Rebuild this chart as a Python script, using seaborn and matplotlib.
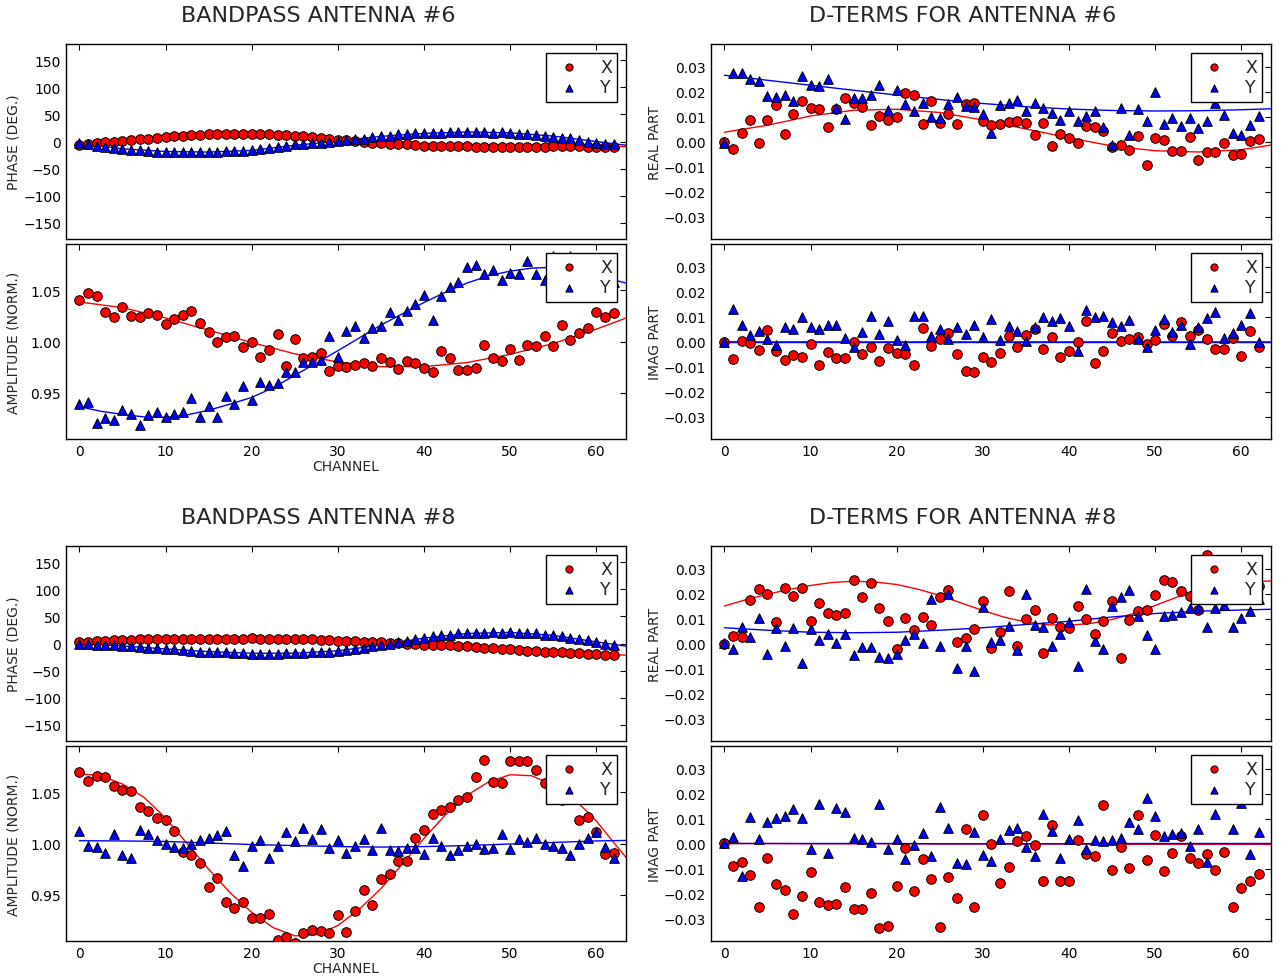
import matplotlib
matplotlib.use('Agg')
import matplotlib.pyplot as plt
import seaborn as sns
from matplotlib.ticker import FuncFormatter

sns.set_style('white')
plt.rcParams['font.family'] = ['DejaVu Sans']

channels = list(range(63))
fit_channels = [0, 5, 10, 15, 20, 25, 30, 35, 40, 45, 50, 55, 60, 63.5]
fit_channels_fine = [0, 2.5, 5, 7.5, 10, 12.5, 15, 17.5, 20, 22.5, 25, 27.5, 30, 32.5,
                     35, 37.5, 40, 42.5, 45, 47.5, 50, 52.5, 55, 57.5, 60, 62.5, 63.5]

# ---- Antenna 6 bandpass: phase (deg) ----
phase6_x = [-6.5, -5, -3, -1.5, 0, 1.5, 2.5, 4, 5, 6.5,
            8, 9.5, 11, 12, 12.5, 13, 13.5, 14, 14.5, 14,
            14, 13.5, 13, 12.5, 12, 11, 10, 8.5, 7, 5,
            3.5, 2, 0.5, -1, -2, -3, -4, -5, -5.5, -6,
            -7.5, -8, -8.5, -8.5, -9, -9, -9.5, -9.5, -10, -10,
            -9.5, -9.5, -9.5, -9.5, -9.5, -9, -9, -8.5, -9, -9.5,
            -9.5, -9.5, -9.5]
phase6_y = [-3.5, -5, -8.5, -10.5, -12.5, -14, -15.5, -16, -18, -19,
            -19.5, -19.5, -19, -20, -19.5, -19, -19, -18, -18, -17.5,
            -16, -13.5, -12.5, -11, -7.5, -5.5, -4.5, -3, -2, -0.5,
            0.5, 2, 4.5, 5.5, 8, 10, 11, 13, 14, 15.5,
            15.5, 16, 16.5, 18, 18, 18, 17.5, 17.5, 16, 17,
            15, 14, 13.5, 12.5, 11, 9, 7, 6, 2.5, -0.5,
            -2.5, -4, -5.5]
phase6_x_fit = [-6, 1.5, 8, 12.5, 14, 11.5, 4, -3, -7.5, -9.5, -10, -9.5, -9.5, -9.5]
phase6_y_fit = [-3.5, -13.5, -18.5, -19.5, -16.5, -7, 0.5, 9.5, 15, 17.5, 16, 10, 0, -7]

# ---- Antenna 6 bandpass: amplitude (normalised) ----
amp6_x = [1.040, 1.047, 1.044, 1.029, 1.024, 1.034, 1.025, 1.024, 1.028, 1.026,
          1.017, 1.022, 1.026, 1.030, 1.018, 1.009, 1.000, 1.004, 1.005, 0.995,
          1.000, 0.985, 0.992, 1.007, 0.976, 1.002, 0.984, 0.985, 0.989, 0.971,
          0.976, 0.975, 0.977, 0.979, 0.976, 0.984, 0.980, 0.973, 0.981, 0.979,
          0.974, 0.970, 0.991, 0.984, 0.972, 0.972, 0.974, 0.997, 0.984, 0.981,
          0.993, 0.982, 0.997, 0.996, 1.005, 0.996, 1.016, 1.001, 1.008, 1.013,
          1.029, 1.024, 1.028]
amp6_y = [0.939, 0.941, 0.921, 0.925, 0.924, 0.933, 0.929, 0.919, 0.928, 0.931,
          0.926, 0.929, 0.931, 0.945, 0.926, 0.937, 0.926, 0.947, 0.939, 0.957,
          0.943, 0.961, 0.958, 0.960, 0.970, 0.970, 0.980, 0.980, 0.982, 1.005,
          0.985, 1.010, 1.015, 1.003, 1.013, 1.015, 1.029, 1.021, 1.030, 1.037,
          1.045, 1.021, 1.044, 1.053, 1.058, 1.073, 1.075, 1.066, 1.070, 1.060,
          1.067, 1.066, 1.078, 1.066, 1.060, 1.083, 1.070, 1.083, 1.070, 1.065,
          1.055, 1.070, 1.058]
amp6_x_fit = [1.0385, 1.033, 1.023, 1.011, 0.999, 0.988, 0.980, 0.9755, 0.9755, 0.9795, 0.9875, 0.998, 1.012, 1.023]
amp6_y_fit = [0.9366, 0.932, 0.929, 0.9265, 0.926, 0.9285, 0.933, 0.939, 0.9455, 0.955, 0.967, 0.979, 0.991, 1.0035,
              1.016, 1.027, 1.038, 1.048, 1.057, 1.064, 1.0686, 1.0715, 1.0722, 1.070, 1.0652, 1.059, 1.0568]

# ---- Antenna 8 bandpass: phase (deg) ----
phase8_x = [2.5, 3, 4.5, 4.5, 6, 7, 7, 7.5, 7.5, 8,
            8, 8.5, 9, 9, 9, 9, 9, 9, 9, 9,
            10, 9, 8.5, 8, 8, 8, 7.5, 7.5, 7, 6,
            5.5, 5, 4, 3.5, 3, 2, 1, 0.5, -0.5, -1,
            -2, -2.5, -3, -3.5, -4.5, -5.5, -7, -8, -8.5, -10,
            -10.5, -12, -13, -14, -15.5, -16, -16.5, -17, -18, -18.5,
            -19.5, -21, -21]
phase8_y = [0, -0.5, -2, -3, -3.5, -4.5, -5.5, -7, -8, -8.5,
            -10, -10.5, -11.5, -14, -15.5, -15.5, -16, -16.5, -17, -18,
            -18.5, -18.5, -18.5, -18.5, -18, -17.5, -17, -16.5, -15.5, -15,
            -13.5, -12.5, -11, -8, -5.5, -3, -0.5, 2.5, 4.5, 7.5,
            10.5, 13.5, 15, 16.5, 18.5, 19, 19, 19, 20.5, 19.5,
            21, 19.5, 19, 18.5, 16.5, 15.5, 14, 10.5, 8, 6,
            2.5, -1, -2.5]
phase8_x_fit = [2.5, 6.5, 8.5, 9.5, 9.5, 8, 5.5, 2, -1.5, -5.5, -10.5, -15.5, -19.5, -21.5]
phase8_y_fit = [0, -4.5, -10, -15, -18, -18, -13.5, -3, 10, 18.5, 20.5, 15, 3, -5]

# ---- Antenna 8 bandpass: amplitude (normalised) ----
amp8_x = [1.070, 1.061, 1.066, 1.065, 1.056, 1.052, 1.051, 1.036, 1.032, 1.025,
          1.023, 1.012, 0.992, 0.989, 0.981, 0.958, 0.966, 0.943, 0.937, 0.943,
          0.927, 0.927, 0.931, 0.906, 0.909, 0.903, 0.913, 0.916, 0.915, 0.913,
          0.930, 0.914, 0.934, 0.955, 0.940, 0.965, 0.970, 0.983, 0.983, 1.005,
          1.013, 1.029, 1.033, 1.036, 1.042, 1.045, 1.065, 1.081, 1.060, 1.059,
          1.080, 1.080, 1.080, 1.072, 1.059, 1.049, 1.042, 1.044, 1.023, 1.026,
          1.011, 0.990, 0.991]
amp8_y = [1.012, 0.998, 0.997, 0.991, 1.009, 0.989, 0.986, 1.013, 1.009, 1.003,
          1.000, 0.997, 0.996, 1.000, 1.003, 1.005, 1.008, 1.012, 0.989, 0.978,
          0.998, 1.003, 0.986, 0.998, 1.011, 1.002, 1.015, 1.004, 1.014, 0.996,
          1.003, 0.991, 0.998, 1.004, 0.994, 1.015, 0.994, 0.993, 0.996, 0.996,
          0.990, 1.005, 0.998, 0.989, 0.994, 0.998, 1.000, 0.995, 0.996, 1.009,
          0.995, 1.004, 1.001, 1.005, 1.000, 0.998, 0.996, 0.989, 1.000, 1.005,
          1.011, 0.997, 0.986]
amp8_x_fit = [1.068, 1.066, 1.058, 1.045, 1.025, 1.000, 0.975, 0.952, 0.933, 0.918, 0.910, 0.911, 0.920, 0.936,
              0.956, 0.980, 1.005, 1.028, 1.047, 1.060, 1.067, 1.066, 1.057, 1.043, 1.022, 0.996, 0.986]
amp8_y_fit = [1.0027, 1.0025, 1.002, 1.0005, 0.999, 0.998, 0.997, 0.9965, 0.997, 0.998, 0.9995, 1.001, 1.0025, 1.003]

# ---- Antenna 6 D-terms ----
real6_x = [0.0, -0.0029, 0.0033, 0.0088, -0.0005, 0.0088, 0.0147, 0.0031, 0.0111, 0.0163,
           0.0134, 0.0129, 0.0059, 0.0131, 0.0175, 0.0154, 0.0139, 0.0068, 0.0104, 0.0086,
           0.0099, 0.0196, 0.0187, 0.0072, 0.0163, 0.0075, 0.011, 0.007, 0.0149, 0.0154,
           0.0082, 0.0067, 0.0072, 0.0078, 0.0084, 0.0075, 0.0025, 0.0076, -0.0019, 0.0031,
           0.0015, -0.0007, 0.0062, 0.0058, 0.0042, -0.0023, -0.0013, -0.0032, 0.0021, -0.0094,
           0.0013, 0.0008, -0.0036, -0.0036, 0.002, -0.0072, -0.0042, -0.0043, -0.0007, -0.0054,
           -0.0051, 0.0003, 0.0011]
real6_y = [-0.0005, 0.0275, 0.0275, 0.0249, 0.0242, 0.0181, 0.0178, 0.0186, 0.0161, 0.0261,
           0.0225, 0.0221, 0.0249, 0.0134, 0.0091, 0.0175, 0.0175, 0.0187, 0.0228, 0.0125,
           0.0205, 0.0151, 0.0121, 0.0154, 0.0098, 0.0094, 0.0151, 0.0178, 0.0141, 0.0139,
           0.011, 0.0033, 0.0145, 0.0154, 0.0165, 0.0121, 0.0155, 0.0134, 0.0115, 0.0087,
           0.0123, 0.0084, 0.0104, 0.0122, 0.0059, -0.0013, 0.0135, 0.0027, 0.0131, 0.0082,
           0.0198, 0.0072, 0.0094, 0.0062, 0.0096, 0.0056, 0.0083, 0.0155, 0.0107, 0.0035,
           0.0028, 0.0066, 0.0103]
real6_x_fit = [0.0037, 0.0065, 0.0102, 0.0125, 0.0129, 0.0116, 0.0086, 0.0050, 0.0015, -0.0018, -0.0037, -0.0042, -0.0033, -0.0014]
real6_y_fit = [0.0265, 0.0245, 0.0225, 0.0205, 0.0186, 0.0168, 0.0152, 0.0139, 0.0130, 0.0124, 0.0122, 0.0123, 0.0127, 0.0131]

imag6_x = [0.0, -0.0071, 0.0001, -0.0005, -0.0035, 0.0047, -0.0036, -0.0075, -0.0055, -0.0061,
           -0.0011, -0.0092, -0.0043, -0.0067, -0.0064, -0.0001, -0.0049, -0.0023, -0.0076, -0.0027,
           -0.0045, -0.0048, -0.0092, 0.0053, -0.0017, 0.0012, 0.0035, -0.0049, -0.0116, -0.012,
           -0.0063, -0.0081, -0.0045, 0.0023, -0.0023, 0.0028, 0.0049, -0.0028, 0.002, -0.0061,
           -0.0039, 0.0, 0.0084, -0.0084, -0.0037, 0.0033, 0.0003, 0.0009, 0.0017, -0.0009,
           0.0008, 0.0069, 0.0024, 0.0079, 0.0023, 0.0045, 0.0011, -0.0028, -0.0031, 0.0013,
           -0.0056, 0.0043, -0.0023]
imag6_y = [0.0, 0.0129, 0.0067, 0.0025, 0.0041, 0.0012, -0.0012, 0.0059, 0.0052, 0.0099,
           0.0059, 0.0052, 0.0068, 0.0068, 0.0013, -0.002, 0.004, 0.0104, 0.0032, 0.0083,
           0.0005, -0.0012, 0.0101, 0.0101, 0.0023, 0.0049, 0.0009, 0.006, 0.0032, 0.0067,
           0.002, 0.0089, 0.0008, 0.0061, 0.0041, 0.0003, 0.006, 0.01, 0.0081, 0.0093,
           0.0064, -0.0037, 0.0125, 0.01, 0.0103, 0.0079, 0.0063, 0.0085, 0.0009, -0.002,
           0.0045, 0.0092, 0.0039, 0.0067, -0.0011, 0.006, 0.0095, 0.0119, 0.0016, 0.0033,
           0.0068, 0.0116, -0.0001]
imag6_x_fit = [0.0, -0.0001, -0.0001, -0.0001, -0.0001, -0.0001, -0.0001, -0.0001, -0.0001, -0.0001, -0.0001, -0.0001, -0.0001, -0.0001]
imag6_y_fit = [0.0, 0.0, 0.0, 0.0, 0.0, 0.0, 0.0, 0.0, 0.0, 0.0, 0.0, 0.0, 0.0, 0.0]

# ---- Antenna 8 D-terms ----
real8_x = [-0.0001, 0.0032, 0.0027, 0.0174, 0.0218, 0.02, 0.0086, 0.0223, 0.0189, 0.0223,
           0.009, 0.0161, 0.0124, 0.0114, 0.0124, 0.0254, 0.0188, 0.0241, 0.0142, 0.009,
           -0.0023, 0.0102, 0.0056, 0.0105, 0.0075, 0.0185, 0.0216, 0.0005, 0.0023, 0.0059,
           0.0169, -0.0017, 0.0048, 0.0209, -0.0009, 0.01, 0.0134, -0.0037, 0.0102, 0.0065,
           0.0063, 0.015, 0.0097, 0.0037, 0.0089, 0.0172, -0.0057, 0.0096, 0.0129, 0.0134,
           0.0193, 0.0255, 0.0245, 0.0212, 0.0192, 0.0134, 0.0356, 0.022, 0.027, 0.02,
           0.025, 0.019, 0.023]
real8_y = [0.0003, -0.002, 0.0068, 0.0025, 0.0102, -0.0041, 0.0063, -0.0009, 0.0061, -0.0077,
           0.0059, 0.0015, 0.0039, 0.0003, 0.0037, -0.0045, -0.0013, -0.0013, -0.0055, -0.0057,
           -0.0041, 0.0013, 0.0037, 0.0003, 0.018, -0.0008, 0.02, -0.0096, -0.0009, -0.011,
           0.0146, 0.0005, 0.0016, 0.0071, -0.0024, 0.02, 0.0076, 0.0067, -0.0009, 0.004,
           0.0086, -0.0089, 0.022, 0.0009, -0.002, 0.0149, 0.0186, 0.0213, 0.011, 0.0033,
           -0.002, 0.011, 0.0116, 0.0128, 0.0142, 0.0142, 0.0065, 0.0142, 0.0154, 0.0065,
           0.0104, 0.0132, 0.018]
real8_x_fit = [0.0150, 0.0175, 0.0197, 0.0216, 0.0232, 0.0244, 0.0249, 0.0246, 0.0236, 0.0217, 0.0192, 0.0162, 0.0132, 0.0105,
               0.0086, 0.0075, 0.0073, 0.0080, 0.0096, 0.0120, 0.0152, 0.0185, 0.0212, 0.0232, 0.0244, 0.0249, 0.0250]
real8_y_fit = [0.0063, 0.0053, 0.0045, 0.0043, 0.0045, 0.0053, 0.0063, 0.0076, 0.0089, 0.0106, 0.0120, 0.0129, 0.0134, 0.0137]

imag8_x = [0.0004, -0.0089, -0.0072, -0.0127, -0.0252, -0.0056, -0.0163, -0.0185, -0.028, -0.0208,
           -0.0113, -0.0233, -0.0245, -0.024, -0.0172, -0.0263, -0.026, -0.0196, -0.0337, -0.0329,
           -0.0169, -0.0016, -0.0189, -0.006, -0.0143, -0.0332, -0.0135, -0.0217, 0.0057, -0.0252,
           0.0113, -0.0003, -0.0156, -0.0093, 0.0011, 0.0031, -0.0005, -0.0148, 0.0073, -0.0151,
           -0.0151, 0.0015, -0.004, -0.0049, 0.0156, -0.0105, -0.0012, -0.0099, 0.0115, -0.0064,
           0.0035, -0.0108, -0.0037, 0.0029, -0.0056, -0.0079, -0.0043, -0.0104, -0.0033, -0.0253,
           -0.0177, -0.0149, -0.0121]
imag8_y = [0.0001, 0.0028, -0.0128, 0.0107, 0.002, 0.0085, 0.0104, 0.0112, 0.014, 0.0103,
           -0.0023, 0.016, -0.0037, 0.0143, 0.0127, 0.0023, 0.002, 0.0007, 0.016, -0.0023,
           0.002, -0.006, -0.0007, 0.0043, -0.0049, 0.0148, 0.0063, -0.0076, -0.008, 0.0047,
           -0.0045, -0.0071, 0.0017, 0.0056, 0.0064, -0.0013, -0.0048, 0.0119, 0.0052, -0.0056,
           0.002, 0.0093, -0.0023, 0.0015, 0.0012, 0.0016, 0.0024, 0.0087, 0.006, 0.0184,
           0.0111, 0.0031, 0.004, 0.0041, -0.0009, 0.006, -0.0073, 0.0117, 0.02, 0.006,
           0.0164, -0.004, 0.0048]
imag8_x_fit = [0.0, 0.0, -0.0001, -0.0001, -0.0001, -0.0002, -0.0002, -0.0002, -0.0002, -0.0003, -0.0003, -0.0003, -0.0003, -0.0003]
imag8_y_fit = [0.0, 0.0, 0.0, 0.0, 0.0, -0.0001, -0.0001, -0.0001, -0.0001, 0.0, 0.0, 0.0, 0.0, 0.0]

W, H = 1281, 979
fig = plt.figure(figsize=(W / 100, H / 100), dpi=100)


def make_axes(left_px, top_px):
    return fig.add_axes([left_px / W, 1 - (top_px + 195) / H, 560 / W, 195 / H])


def two_dec(v, pos):
    return f'{v:.2f}'.replace('-', '\u2212')


def grid_for(values):
    # fitted curves were read either every 5 or every 2.5 channels
    return fit_channels_fine if len(values) == len(fit_channels_fine) else fit_channels


def draw_panel(ax, x_vals, y_vals, x_fit, y_fit, kind, ylabel, show_xticks, label_x):
    sns.lineplot(x=grid_for(x_fit), y=x_fit, color='red', linewidth=1, ax=ax, legend=False, zorder=2)
    sns.lineplot(x=grid_for(y_fit), y=y_fit, color='blue', linewidth=1, ax=ax, legend=False, zorder=2)
    sns.scatterplot(x=channels, y=x_vals, marker='o', color='red', edgecolor='black',
                    linewidth=0.7, s=48, label='X', legend=False, ax=ax, zorder=3)
    sns.scatterplot(x=channels, y=y_vals, marker='^', color='blue', edgecolor='black',
                    linewidth=0.7, s=48, label='Y', legend=False, ax=ax, zorder=3)

    ax.set_xlim(-1.55, 63.45)
    ax.set_xticks([0, 10, 20, 30, 40, 50, 60])
    if kind == 'phase':
        ax.set_ylim(-180, 180)
        ax.set_yticks([-150, -100, -50, 0, 50, 100, 150])
    elif kind == 'amp':
        ax.set_ylim(0.905, 1.095)
        ax.set_yticks([0.95, 1.00, 1.05])
        ax.yaxis.set_major_formatter(FuncFormatter(two_dec))
    else:
        ax.set_ylim(-0.039, 0.039)
        ax.set_yticks([-0.03, -0.02, -0.01, 0.0, 0.01, 0.02, 0.03])
        ax.yaxis.set_major_formatter(FuncFormatter(two_dec))

    ax.tick_params(direction='in', top=True, right=True, length=4, width=0.8,
                   labelsize=10, colors='black', labelbottom=show_xticks)
    for sp in ax.spines.values():
        sp.set_color('black')
        sp.set_linewidth(1.0)

    ax.set_ylabel(ylabel, fontsize=10)
    ax.set_xlabel('CHANNEL' if label_x else '', fontsize=10, labelpad=1)

    leg = ax.legend(loc='upper right', scatterpoints=1, fontsize=12.5, fancybox=False,
                    framealpha=1, edgecolor='black', borderaxespad=0.5, markerscale=0.75,
                    labelspacing=0.15, borderpad=0.3, handletextpad=0.8)
    leg.get_frame().set_linewidth(1.0)


# Left column: bandpass, right column: D-terms
ax = make_axes(66, 45)
draw_panel(ax, phase6_x, phase6_y, phase6_x_fit, phase6_y_fit, 'phase', 'PHASE (DEG.)', False, False)
ax.yaxis.set_label_coords(-0.082, 0.5)
ax = make_axes(66, 245)
draw_panel(ax, amp6_x, amp6_y, amp6_x_fit, amp6_y_fit, 'amp', 'AMPLITUDE (NORM.)', True, True)
ax.yaxis.set_label_coords(-0.082, 0.5)
ax = make_axes(66, 547)
draw_panel(ax, phase8_x, phase8_y, phase8_x_fit, phase8_y_fit, 'phase', 'PHASE (DEG.)', False, False)
ax.yaxis.set_label_coords(-0.082, 0.5)
ax = make_axes(66, 747)
draw_panel(ax, amp8_x, amp8_y, amp8_x_fit, amp8_y_fit, 'amp', 'AMPLITUDE (NORM.)', True, True)
ax.yaxis.set_label_coords(-0.082, 0.5)

ax = make_axes(711, 45)
draw_panel(ax, real6_x, real6_y, real6_x_fit, real6_y_fit, 'dterm', 'REAL PART', False, False)
ax.yaxis.set_label_coords(-0.088, 0.5)
ax = make_axes(711, 245)
draw_panel(ax, imag6_x, imag6_y, imag6_x_fit, imag6_y_fit, 'dterm', 'IMAG PART', True, False)
ax.yaxis.set_label_coords(-0.088, 0.5)
ax = make_axes(711, 547)
draw_panel(ax, real8_x, real8_y, real8_x_fit, real8_y_fit, 'dterm', 'REAL PART', False, False)
ax.yaxis.set_label_coords(-0.088, 0.5)
ax = make_axes(711, 747)
draw_panel(ax, imag8_x, imag8_y, imag8_x_fit, imag8_y_fit, 'dterm', 'IMAG PART', True, False)
ax.yaxis.set_label_coords(-0.088, 0.5)

# Column titles
fig.text(318 / W, 1 - 16 / H, 'BANDPASS ANTENNA #6', ha='center', va='center', fontsize=16)
fig.text(963 / W, 1 - 16 / H, 'D-TERMS FOR ANTENNA #6', ha='center', va='center', fontsize=16)
fig.text(318 / W, 1 - 518 / H, 'BANDPASS ANTENNA #8', ha='center', va='center', fontsize=16)
fig.text(963 / W, 1 - 518 / H, 'D-TERMS FOR ANTENNA #8', ha='center', va='center', fontsize=16)

fig.savefig('out.png', dpi=100)
